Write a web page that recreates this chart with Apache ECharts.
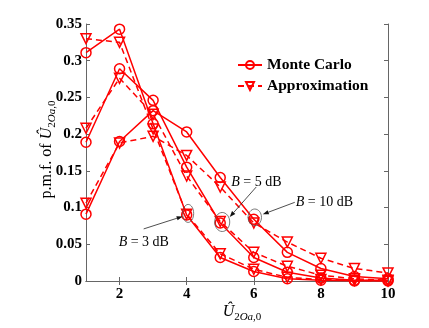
<!DOCTYPE html>
<html>
<head>
<meta charset="utf-8">
<script src="https://cdn.jsdelivr.net/npm/echarts@6/dist/echarts.min.js"></script>
<style>
  html, body { margin: 0; padding: 0; background: #fff; }
  #chart { width: 429px; height: 328px; }
</style>
</head>
<body>
<div id="chart"></div>
<script>
// x values (U hat)
const xValues = [1, 2, 3, 4, 5, 6, 7, 8, 9, 10];
const xTicks = [2, 4, 6, 8, 10];

// B = 3 dB
const mc3 = [0.311, 0.343, 0.214, 0.090, 0.032, 0.013, 0.003, 0.001, 0.000, 0.000];
const ap3 = [0.330, 0.325, 0.207, 0.091, 0.037, 0.016, 0.005, 0.002, 0.001, 0.000];
// B = 5 dB
const mc5 = [0.189, 0.289, 0.246, 0.155, 0.079, 0.032, 0.012, 0.004, 0.001, 0.001];
const ap5 = [0.208, 0.276, 0.227, 0.143, 0.081, 0.039, 0.020, 0.008, 0.003, 0.001];
// B = 10 dB
const mc10 = [0.091, 0.190, 0.232, 0.203, 0.141, 0.084, 0.039, 0.017, 0.006, 0.003];
const ap10 = [0.106, 0.188, 0.197, 0.171, 0.128, 0.079, 0.053, 0.031, 0.017, 0.011];

const serif = 'Liberation Serif';
const red = '#ff0000';
const axisColor = '#666';

function pairs(ys) {
  return xValues.map((x, i) => [x, ys[i]]);
}

function mcSeries(ys) {
  return {
    name: 'Monte Carlo',
    type: 'line',
    data: pairs(ys),
    symbol: 'circle',
    symbolSize: 10,
    lineStyle: { color: red, width: 1.5 },
    itemStyle: { color: 'transparent', borderColor: red, borderWidth: 1.5 },
  };
}

function apSeries(ys) {
  return {
    name: 'Approximation',
    type: 'line',
    data: pairs(ys),
    symbol: 'triangle',
    symbolRotate: 180,
    symbolSize: 10,
    lineStyle: { color: red, width: 1.5, type: [6, 4] },
    itemStyle: { color: 'transparent', borderColor: red, borderWidth: 1.5 },
  };
}

const nameRich = {
  n: { fontFamily: serif, fontSize: 16, color: '#000', lineHeight: 22 },
  u: { fontFamily: serif, fontStyle: 'italic', fontSize: 16, color: '#000', lineHeight: 22 },
  s: { fontFamily: serif, fontSize: 11, color: '#000', lineHeight: 22, verticalAlign: 'bottom' },
  si: { fontFamily: serif, fontStyle: 'italic', fontSize: 11, color: '#000', lineHeight: 22, verticalAlign: 'bottom' },
};
const uName = '{u|Û}{s|2}{si|Oa}{s|,0}';

const tickLabel = { fontFamily: serif, fontWeight: 'bold', fontSize: 15, color: '#000' };

const chart = echarts.init(document.getElementById('chart'));
const option = {
  animation: false,
  backgroundColor: '#fff',
  grid: { left: 86, right: 41, top: 24, bottom: 40 },
  legend: {
    orient: 'vertical',
    left: 232,
    top: 52,
    itemWidth: 24,
    itemHeight: 10,
    itemGap: 5,
    data: ['Monte Carlo', 'Approximation'],
    textStyle: { fontFamily: serif, fontWeight: 'bold', fontSize: 15.5, color: '#000' },
  },
  xAxis: [
    {
      type: 'value',
      min: 1,
      max: 10,
      name: uName,
      nameLocation: 'middle',
      nameGap: 20,
      nameMoveOverlap: false,
      nameTextStyle: { rich: nameRich, padding: [0, 0, 0, 10] },
      axisLine: { lineStyle: { color: axisColor } },
      axisTick: { inside: true, length: 4, customValues: xTicks, lineStyle: { color: axisColor } },
      axisLabel: { customValues: xTicks, margin: 6, ...tickLabel },
      splitLine: { show: false },
    },
    {
      type: 'value',
      position: 'top',
      min: 1,
      max: 10,
      axisLine: { lineStyle: { color: axisColor } },
      axisTick: { inside: true, length: 4, customValues: xTicks, lineStyle: { color: axisColor } },
      axisLabel: { show: false },
      splitLine: { show: false },
    },
  ],
  yAxis: [
    {
      type: 'value',
      min: 0,
      max: 0.35,
      interval: 0.05,
      name: '{n|p.m.f. of }' + uName,
      nameLocation: 'middle',
      nameRotate: 90,
      nameGap: 28,
      nameMoveOverlap: false,
      nameTextStyle: { rich: nameRich, padding: [0, 0, 0, 6] },
      axisLine: { show: true, lineStyle: { color: axisColor } },
      axisTick: { show: true, inside: true, length: 4, lineStyle: { color: axisColor } },
      axisLabel: { margin: 4, formatter: v => String(+v.toFixed(2)), ...tickLabel },
      splitLine: { show: false },
    },
    {
      type: 'value',
      position: 'right',
      min: 0,
      max: 0.35,
      interval: 0.05,
      axisLine: { show: true, lineStyle: { color: axisColor } },
      axisTick: { show: true, inside: true, length: 4, lineStyle: { color: axisColor } },
      axisLabel: { show: false },
      splitLine: { show: false },
    },
  ],
  series: [mcSeries(mc3), apSeries(ap3), mcSeries(mc5), apSeries(ap5), mcSeries(mc10), apSeries(ap10)],
};
chart.setOption(option);

// annotation: ellipse round a data point, arrow and text (offsets in px)
function annotate(x, y, o) {
  const p = chart.convertToPixel({ gridIndex: 0 }, [x, y]);
  const cx = p[0] + o.dx, cy = p[1] + o.dy;
  const tx = p[0] + o.tail[0], ty = p[1] + o.tail[1];
  const hx = p[0] + o.head[0], hy = p[1] + o.head[1];
  const ang = Math.atan2(hy - ty, hx - tx);
  const len = 6, w = 2.2;
  const bx = hx - len * Math.cos(ang), by = hy - len * Math.sin(ang);
  return [
    {
      type: 'ellipse',
      shape: { cx: cx, cy: cy, rx: o.rx, ry: o.ry },
      style: { fill: 'none', stroke: '#555', lineWidth: 0.8 },
      z: 10,
    },
    {
      type: 'line',
      shape: { x1: tx, y1: ty, x2: bx, y2: by },
      style: { stroke: '#222', lineWidth: 0.8 },
      z: 10,
    },
    {
      type: 'polygon',
      shape: {
        points: [
          [hx, hy],
          [bx - w * Math.sin(ang), by + w * Math.cos(ang)],
          [bx + w * Math.sin(ang), by - w * Math.cos(ang)],
        ],
      },
      style: { fill: '#111' },
      z: 10,
    },
    {
      type: 'text',
      x: p[0] + o.text[0],
      y: p[1] + o.text[1],
      style: {
        text: '{i|B} = ' + o.label,
        fontFamily: serif,
        fontSize: 14,
        fill: '#000',
        verticalAlign: 'middle',
        rich: { i: { fontFamily: serif, fontStyle: 'italic', fontSize: 14 } },
      },
      z: 10,
    },
  ];
}

chart.setOption({
  graphic: [].concat(
    annotate(4, mc3[3], { dx: 1.5, dy: -1.5, rx: 5.5, ry: 9, tail: [-43, 14], head: [-4, 1.5], text: [-68, 27], label: '3 dB' }),
    annotate(5, mc5[4], { dx: 2, dy: -1, rx: 7.5, ry: 9.5, tail: [36, -36], head: [9.5, -6], text: [11, -41], label: '5 dB' }),
    annotate(6, mc10[5], { dx: 1, dy: -2, rx: 6.7, ry: 8.3, tail: [41, -17], head: [9, -5], text: [42, -17], label: '10 dB' })
  ),
});
</script>
</body>
</html>
